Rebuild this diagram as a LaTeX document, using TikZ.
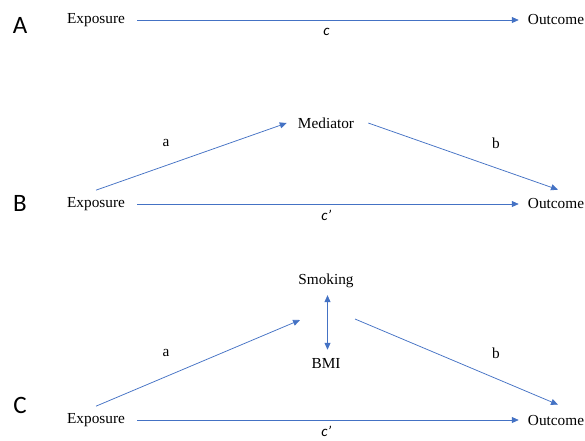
\documentclass[tikz,border=0pt]{standalone}
\usepackage{fontspec}
\setmainfont{Liberation Serif}
\newfontfamily\calibri{Carlito}
\usetikzlibrary{arrows.meta}
\definecolor{flowblue}{HTML}{4472C4}

\begin{document}
\begin{tikzpicture}[x=1pt,y=-1pt,font=\fontsize{15.3}{18}\selectfont]
    \tikzstyle{flow}=[draw=flowblue,line width=0.75pt,-{Triangle[length=7pt,width=6pt]}]
    \tikzstyle{both}=[{Triangle[length=7pt,width=6pt]}-{Triangle[length=7pt,width=6pt]}]
    \tikzstyle{var}=[inner sep=0pt]
    \tikzstyle{panel}=[inner sep=0pt,font=\calibri\fontsize{25}{30}\selectfont]
    \tikzstyle{effect}=[inner sep=0pt,font=\calibri\itshape\fontsize{15}{18}\selectfont]
    \useasboundingbox (0,0) rectangle (585,440);

    % panel letters
    \node[panel] (P-A) at (20,25) {A};
    \node[panel] (P-B) at (20,203) {B};
    \node[panel] (P-C) at (20,405) {C};

    % exposure and outcome with the direct path in each panel
    \foreach \p/\y/\c in {A/20/c, B/204/c’, C/420/c’} {
    \node[var] (E-\p) at (96,\y) {Exposure};
    \node[var] (O-\p) at (556,\y) {Outcome};
    \draw[flow, shorten <=12pt, shorten >=9pt] (E-\p) -- node[effect, midway, yshift=-11.5pt] {\c} (O-\p);
    }

    % single mediator
    \node[var] (M-B) at (326,123) {Mediator};
    \draw[flow] ([yshift=7pt]E-B.north) -- ([xshift=-11pt]M-B.west);
    \draw[flow] ([xshift=14pt]M-B.east) -- ([xshift=2pt,yshift=9pt]O-B.north);
    \node[var] (a-B) at (166,143) {a};
    \node[var] (b-B) at (496,143) {b};

    % smoking and BMI
    \node[var] (S-C) at (326,281) {Smoking};
    \node[var] (BMI-C) at (326,364) {BMI};
    \draw[flow, both] ([xshift=1.5pt,yshift=-7pt]S-C.south) -- ([xshift=1.5pt,yshift=9pt]BMI-C.north);
    \coordinate (J-L) at (300,320);
    \coordinate (J-R) at (355,319);
    \draw[flow] ([yshift=7pt]E-C.north) -- (J-L);
    \draw[flow] (J-R) -- ([xshift=2pt,yshift=10pt]O-C.north);
    \node[var] (a-C) at (166,353) {a};
    \node[var] (b-C) at (496,353) {b};
  \end{tikzpicture}
\end{document}
